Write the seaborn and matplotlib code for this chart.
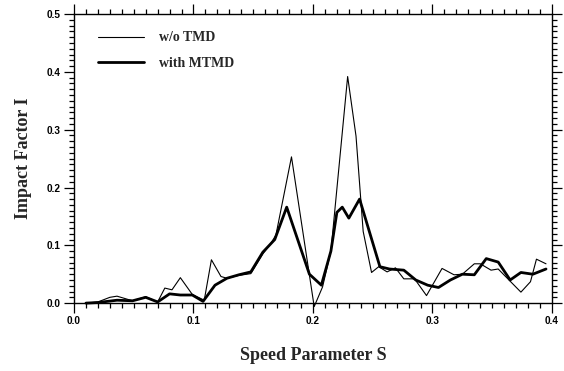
import matplotlib
matplotlib.use("Agg")
import matplotlib.pyplot as plt
from matplotlib.ticker import MultipleLocator, FormatStrFormatter
import seaborn as sns
import pandas as pd

# w/o TMD (thin line)
thin_S = [0.010, 0.020, 0.030, 0.036, 0.049, 0.060, 0.070, 0.076, 0.082, 0.089,
          0.099, 0.109, 0.115, 0.123, 0.128, 0.138, 0.148, 0.158, 0.165, 0.169,
          0.182, 0.201, 0.208, 0.215, 0.229, 0.236, 0.242, 0.249, 0.255, 0.262,
          0.269, 0.276, 0.285, 0.295, 0.308, 0.318, 0.325, 0.335, 0.340, 0.349,
          0.355, 0.364, 0.374, 0.382, 0.387, 0.395]
thin_I = [0.000, 0.002, 0.010, 0.012, 0.004, 0.011, 0.002, 0.026, 0.023, 0.044,
          0.015, 0.005, 0.075, 0.046, 0.043, 0.048, 0.051, 0.085, 0.104, 0.118,
          0.253, -0.006, 0.028, 0.090, 0.392, 0.289, 0.124, 0.053, 0.063, 0.054,
          0.061, 0.042, 0.042, 0.013, 0.060, 0.049, 0.050, 0.068, 0.068, 0.057,
          0.059, 0.040, 0.019, 0.037, 0.076, 0.068]

# with MTMD (thick line)
thick_S = [0.010, 0.020, 0.036, 0.049, 0.060, 0.070, 0.080, 0.089, 0.099, 0.108,
           0.118, 0.128, 0.138, 0.148, 0.158, 0.168, 0.178, 0.197, 0.207, 0.215,
           0.220, 0.2245, 0.230, 0.239, 0.256, 0.264, 0.276, 0.286, 0.296, 0.305,
           0.315, 0.325, 0.335, 0.345, 0.355, 0.365, 0.374, 0.384, 0.395]
thick_I = [0.000, 0.001, 0.005, 0.004, 0.010, 0.002, 0.016, 0.014, 0.014, 0.003,
           0.031, 0.043, 0.049, 0.054, 0.088, 0.110, 0.166, 0.050, 0.031, 0.090,
           0.157, 0.166, 0.147, 0.180, 0.063, 0.059, 0.057, 0.040, 0.031, 0.027,
           0.040, 0.050, 0.049, 0.077, 0.071, 0.040, 0.053, 0.050, 0.059]

labels = ["w/o TMD", "with MTMD"]
x_ticks = [0.0, 0.1, 0.2, 0.3, 0.4]
y_ticks = [0.0, 0.1, 0.2, 0.3, 0.4, 0.5]

sns.set_style("ticks")
plt.rcParams["font.family"] = ["Liberation Sans", "DejaVu Sans"]

fig = plt.figure(figsize=(5.64, 3.71), dpi=100)
ax = fig.add_axes([0.1312, 0.183, 0.8475, 0.779])

df_thin = pd.DataFrame({"S": thin_S, "I": thin_I})
df_thick = pd.DataFrame({"S": thick_S, "I": thick_I})
sns.lineplot(data=df_thin, x="S", y="I", ax=ax, color="black", lw=0.8,
             label=labels[0], sort=False, clip_on=False)
sns.lineplot(data=df_thick, x="S", y="I", ax=ax, color="black", lw=2.0,
             label=labels[1], sort=False, clip_on=False)

ax.set_xlim(0.0, 0.4)
ax.set_ylim(0.0, 0.5)
ax.set_xticks(x_ticks)
ax.set_yticks(y_ticks)
ax.xaxis.set_minor_locator(MultipleLocator(0.01))
ax.yaxis.set_minor_locator(MultipleLocator(0.01))
ax.xaxis.set_major_formatter(FormatStrFormatter("%.1f"))
ax.yaxis.set_major_formatter(FormatStrFormatter("%.1f"))

for s in ax.spines.values():
    s.set_visible(True)
    s.set_linewidth(1.0)
    s.set_color("black")

ax.tick_params(which="both", direction="out", top=True, right=True,
               color="black", width=0.9)
ax.tick_params(which="major", length=7, pad=2.5)
ax.tick_params(which="minor", length=3.5)
for lab in ax.get_xticklabels() + ax.get_yticklabels():
    lab.set_fontweight("bold")
    lab.set_fontsize(7.2)
    lab.set_color("black")

ax.set_xlabel("Speed Parameter S", family="Liberation Serif", fontweight="bold",
              fontsize=13, labelpad=15)
ax.set_ylabel("Impact Factor I", family="Liberation Serif", fontweight="bold",
              fontsize=13, labelpad=11)

leg = ax.legend(loc="upper left", bbox_to_anchor=(0.05, 0.94), frameon=False,
                prop={"family": "Liberation Serif", "weight": "bold", "size": 10},
                handlelength=3.3, handletextpad=1.08, labelspacing=0.89,
                borderpad=0, borderaxespad=0)

ax.grid(False)
fig.savefig("out.png", dpi=100)
